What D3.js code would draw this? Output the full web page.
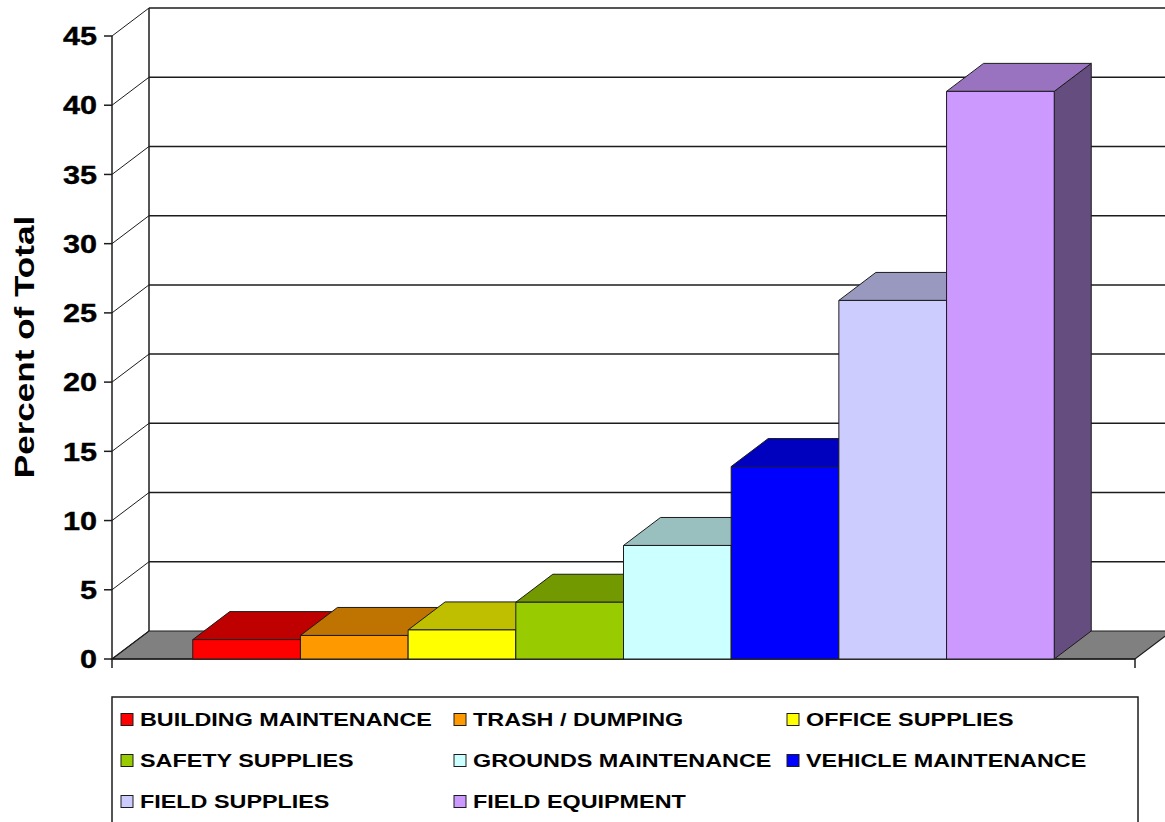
<!DOCTYPE html>
<html><head><meta charset="utf-8">
<script src="https://cdn.jsdelivr.net/npm/d3@7"></script>
<style>
body{margin:0;background:#fff}
svg{display:block}
text{font-family:"Liberation Sans",Arial,Helvetica,sans-serif;font-weight:bold;fill:#000}
</style>
</head><body>
<svg id="c" width="1165" height="822"></svg>
<script>
// ---- data ----
const categories = ["BUILDING MAINTENANCE","TRASH / DUMPING","OFFICE SUPPLIES","SAFETY SUPPLIES","GROUNDS MAINTENANCE","VEHICLE MAINTENANCE","FIELD SUPPLIES","FIELD EQUIPMENT"];
const values = [1.4, 1.7, 2.1, 4.1, 8.2, 13.9, 25.9, 41.0];
const colors = ["#FF0000","#FF9900","#FFFF00","#99CC00","#CCFFFF","#0000FF","#CCCCFF","#CC99FF"];
const yTicks = [0,5,10,15,20,25,30,35,40,45];
const yTitle = "Percent of Total";

// ---- layout ----
const svg = d3.select("#c");
const pLeft = 112, pRight = 1135, pBottom = 659, pTop = 36;
const dx = 37, dy = 28;            // depth offset (oblique projection)
const stroke = "#1c1c1c";

const y = d3.scaleLinear().domain([0,45]).range([pBottom, pTop]);
const x = d3.scaleBand().domain(categories).range([pLeft, pRight]).paddingInner(0).paddingOuter(0.75);
const bw = x.bandwidth();

function shade(c, k){ const r = d3.rgb(c); return d3.rgb(r.r*k, r.g*k, r.b*k).formatHex(); }
const pts = a => a.map(p => p.join(",")).join(" ");

// floor
svg.append("polygon")
  .attr("points", pts([[pLeft,pBottom],[pRight,pBottom],[pRight+dx,pBottom-dy],[pLeft+dx,pBottom-dy]]))
  .attr("fill","#808080").attr("stroke",stroke).attr("stroke-width",1.2);

// back wall gridlines and left-wall diagonals
const grid = svg.append("g").attr("stroke",stroke).attr("stroke-width",1.5).attr("fill","none");
yTicks.forEach(t => {
  if (t > 0) grid.append("line").attr("x1",pLeft+dx).attr("x2",pRight+dx+20)
      .attr("y1",y(t)-dy).attr("y2",y(t)-dy);
  grid.append("line").attr("x1",pLeft).attr("y1",y(t)).attr("x2",pLeft+dx).attr("y2",y(t)-dy)
      .attr("stroke-width",1);
});
grid.append("line").attr("x1",pLeft+dx).attr("x2",pLeft+dx).attr("y1",y(45)-dy).attr("y2",y(0)-dy);

// front value axis
const ax = svg.append("g").attr("stroke",stroke).attr("stroke-width",1.5);
ax.append("line").attr("x1",pLeft).attr("x2",pLeft).attr("y1",y(45)).attr("y2",pBottom+9);
yTicks.forEach(t => ax.append("line").attr("x1",pLeft-8).attr("x2",pLeft).attr("y1",y(t)).attr("y2",y(t)));
ax.append("line").attr("x1",pLeft).attr("x2",pRight).attr("y1",pBottom).attr("y2",pBottom);
ax.append("line").attr("x1",pRight).attr("x2",pRight).attr("y1",pBottom).attr("y2",pBottom+9);

// tick labels
yTicks.forEach(t => {
  svg.append("g").attr("transform",`translate(97,${y(t)}) scale(1.2,1)`)
    .append("text").attr("text-anchor","end").attr("dy","0.36em")
    .style("font-size","25.5px").style("stroke","#000").style("stroke-width","0.4px").text(t);
});

// axis title
svg.append("g").attr("transform","translate(24,347) rotate(-90) scale(1.3,1)")
  .append("text").attr("text-anchor","middle").attr("dy","0.36em")
  .style("font-size","27px").text(yTitle);

// bars
const bars = svg.append("g").attr("stroke",stroke).attr("stroke-width",1).attr("stroke-linejoin","round");
categories.forEach((c,i) => {
  const x0 = x(c), x1 = x0 + bw, yt = y(values[i]), yb = y(0);
  bars.append("polygon").attr("points", pts([[x1,yt],[x1+dx,yt-dy],[x1+dx,yb-dy],[x1,yb]]))
    .attr("fill", shade(colors[i],0.5));
  bars.append("polygon").attr("points", pts([[x0,yt],[x1,yt],[x1+dx,yt-dy],[x0+dx,yt-dy]]))
    .attr("fill", shade(colors[i],0.75));
  bars.append("rect").attr("x",x0).attr("y",yt).attr("width",bw).attr("height",yb-yt)
    .attr("fill", colors[i]);
});

// legend
const lg = svg.append("g");
lg.append("rect").attr("x",112).attr("y",697).attr("width",1026).attr("height",150)
  .attr("fill","#fff").attr("stroke",stroke).attr("stroke-width",1.5);
const colX = [121, 454, 787], rowY = [726, 767, 808];
categories.forEach((c,i) => {
  const sx = colX[i%3], by = rowY[Math.floor(i/3)];
  lg.append("rect").attr("x",sx).attr("y",by-12.5).attr("width",12).attr("height",12)
    .attr("fill",colors[i]).attr("stroke",stroke).attr("stroke-width",1);
  lg.append("g").attr("transform",`translate(${sx+19},${by}) scale(1.23,1)`)
    .append("text").style("font-size","19px").text(c);
});
</script>
</body></html>
